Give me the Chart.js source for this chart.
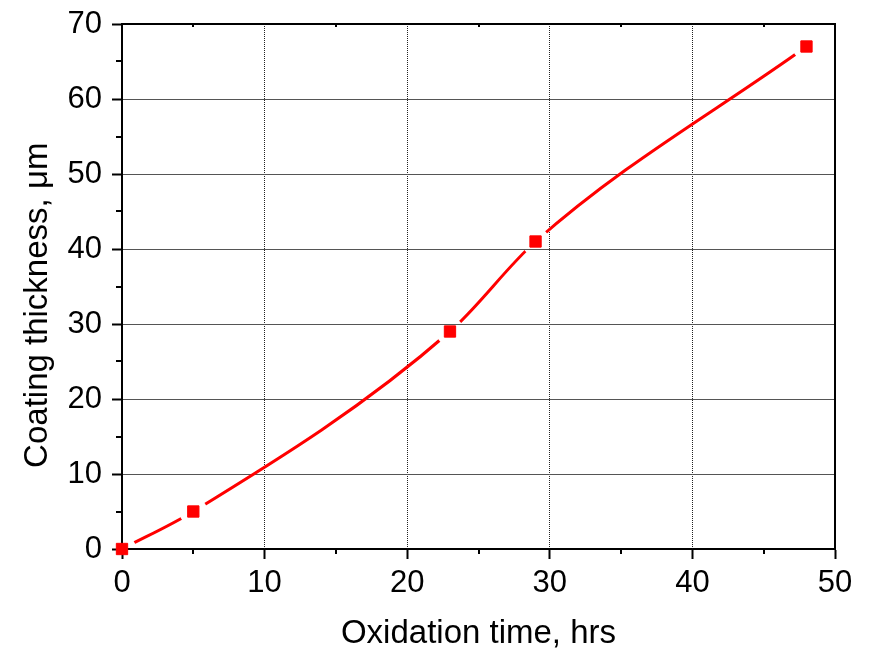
<!DOCTYPE html>
<html>
<head>
<meta charset="utf-8">
<script src="https://cdn.jsdelivr.net/npm/chart.js@4.4.0/dist/chart.umd.min.js"></script>
<style>
  html, body { margin: 0; padding: 0; background: #fff; }
</style>
</head>
<body>
<canvas id="chart" width="871" height="654"></canvas>
<script>
const oxidationHours = [0, 5, 23, 29, 48];
const coatingThickness = [0, 5, 29, 41, 67];
const xMinorTicks = [5, 15, 25, 35, 45];
const yMinorTicks = [5, 15, 25, 35, 45, 55, 65];
const xTitle = "Oxidation time, hrs";
const yTitle = "Coating thickness, \u03bcm";

const FONT = "'Liberation Sans', Arial, sans-serif";
const points = oxidationHours.map((x, i) => ({ x, y: coatingThickness[i] }));

// leave a small gap in the curve around each marker (Origin style)
const markerGap = {
  id: "markerGap",
  beforeDatasetDraw(chart, args) {
    if (args.index !== 0) return;
    const ctx = chart.ctx;
    const pts = chart.getDatasetMeta(1).data;
    ctx.save();
    ctx.beginPath();
    ctx.rect(0, 0, chart.width, chart.height);
    pts.forEach((p) => {
      ctx.moveTo(p.x + 14, p.y);
      ctx.arc(p.x, p.y, 14, 0, Math.PI * 2);
    });
    ctx.clip("evenodd");
  },
  afterDatasetDraw(chart, args) {
    if (args.index === 0) chart.ctx.restore();
  },
};

// frame on top/right, minor ticks, y title (sits a bit below the axis centre)
const frame = {
  id: "frame",
  afterDraw(chart) {
    const { ctx, chartArea: a, scales } = chart;
    ctx.save();
    ctx.strokeStyle = "#000";
    ctx.lineWidth = 2;
    ctx.beginPath();
    ctx.moveTo(a.left, a.top);
    ctx.lineTo(a.right, a.top);
    ctx.lineTo(a.right, a.bottom);
    ctx.stroke();
    ctx.beginPath();
    xMinorTicks.forEach((v) => {
      const px = Math.round(scales.x.getPixelForValue(v));
      ctx.moveTo(px, a.bottom);
      ctx.lineTo(px, a.bottom + 5);
      ctx.moveTo(px, a.top);
      ctx.lineTo(px, a.top + 3);
    });
    yMinorTicks.forEach((v) => {
      const py = Math.round(scales.y.getPixelForValue(v));
      ctx.moveTo(a.left, py);
      ctx.lineTo(a.left - 6, py);
    });
    ctx.stroke();

    ctx.translate(38, scales.y.getPixelForValue(32.5));
    ctx.rotate(-Math.PI / 2);
    ctx.fillStyle = "#000";
    ctx.font = "33px " + FONT;
    ctx.textAlign = "center";
    ctx.textBaseline = "middle";
    ctx.fillText(yTitle, 0, 0);
    ctx.restore();
  },
};

const hideEnds = (lo, hi, color) => (c) =>
  c.tick && (c.tick.value === lo || c.tick.value === hi) ? "rgba(0,0,0,0)" : color;

new Chart(document.getElementById("chart"), {
  type: "scatter",
  data: {
    datasets: [
      {
        data: points,
        showLine: true,
        borderColor: "#ff0000",
        borderWidth: 3,
        pointRadius: 0,
        cubicInterpolationMode: "monotone",
        fill: false,
      },
      {
        data: points,
        showLine: false,
        pointStyle: "rect",
        pointRadius: 8,
        pointBackgroundColor: "#ff0000",
        pointBorderColor: "#ff0000",
        pointBorderWidth: 1,
        clip: false,
      },
    ],
  },
  options: {
    responsive: false,
    animation: false,
    layout: { padding: { left: 0, right: 36, top: 24, bottom: 0 } },
    plugins: { legend: { display: false }, tooltip: { enabled: false } },
    scales: {
      x: {
        type: "linear",
        min: 0,
        max: 50,
        ticks: { stepSize: 10, color: "#000", padding: 6, maxRotation: 0, font: { family: FONT, size: 31 } },
        grid: { color: hideEnds(0, 50, "#222"), lineWidth: 1, tickLength: 10, tickColor: "#000", tickWidth: 2 },
        border: { color: "#000", width: 2, dash: [1, 1] },
        title: { display: true, text: xTitle, color: "#000", font: { family: FONT, size: 33 }, padding: { top: 0, bottom: 0 } },
        afterFit: (s) => { s.height = 105; },
      },
      y: {
        type: "linear",
        min: 0,
        max: 70,
        ticks: { stepSize: 10, color: "#000", padding: 10, font: { family: FONT, size: 31 } },
        grid: { color: hideEnds(0, 70, "#555"), lineWidth: 1, tickLength: 10, tickColor: "#000", tickWidth: 2 },
        border: { color: "#000", width: 2 },
        afterFit: (s) => { s.width = 122; s.paddingTop = 0; s.paddingBottom = 0; },
      },
    },
  },
  plugins: [markerGap, frame],
});
</script>
</body>
</html>
